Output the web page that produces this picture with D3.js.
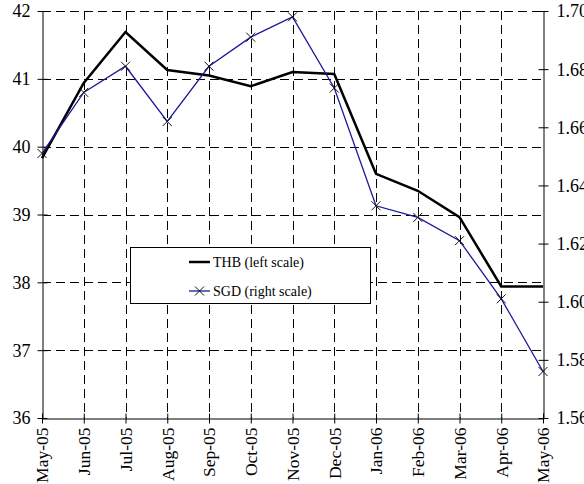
<!DOCTYPE html>
<html>
<head>
<meta charset="utf-8">
<script src="https://cdn.jsdelivr.net/npm/d3@7"></script>
<style>
  body { margin: 0; background: #fff; }
</style>
</head>
<body>
<div id="chart"></div>
<script>
const months = ["May-05", "Jun-05", "Jul-05", "Aug-05", "Sep-05", "Oct-05", "Nov-05",
                "Dec-05", "Jan-06", "Feb-06", "Mar-06", "Apr-06", "May-06"];
const thb = [39.83, 40.94, 41.69, 41.13, 41.05, 40.89, 41.10, 41.07, 39.60, 39.35, 38.96, 37.94, 37.94];
const sgd = [1.651, 1.672, 1.681, 1.662, 1.681, 1.691, 1.698, 1.6735, 1.633, 1.629, 1.621, 1.601, 1.576];
const leftTicks = [36, 37, 38, 39, 40, 41, 42];
const rightTicks = [1.56, 1.58, 1.60, 1.62, 1.64, 1.66, 1.68, 1.70];

const W = 584, H = 484;
const MARGIN = { LEFT: 42, RIGHT: 41, TOP: 11, BOTTOM: 66 };
const FONT = "Liberation Serif";

const svg = d3.select("#chart").append("svg")
    .attr("width", W)
    .attr("height", H)
    .attr("font-family", FONT);

const x = d3.scalePoint()
    .domain(months)
    .range([MARGIN.LEFT, W - MARGIN.RIGHT]);

const yL = d3.scaleLinear()
    .domain([36, 42])
    .range([H - MARGIN.BOTTOM, MARGIN.TOP]);

const yR = d3.scaleLinear()
    .domain([1.56, 1.70])
    .range([H - MARGIN.BOTTOM, MARGIN.TOP]);

const x0 = MARGIN.LEFT, x1 = W - MARGIN.RIGHT;
const yTop = MARGIN.TOP, yBot = H - MARGIN.BOTTOM;

// grid dashed lines
svg.append("g").selectAll("line")
    .data(leftTicks.filter(d => d !== 36))
    .enter().append("line")
    .attr("x1", x0).attr("x2", x1)
    .attr("y1", d => Math.round(yL(d)) + 0.5).attr("y2", d => Math.round(yL(d)) + 0.5)
    .attr("stroke", "#000").attr("stroke-width", 1)
    .attr("stroke-dasharray", "9,5");

svg.append("g").selectAll("line")
    .data(months.slice(1, -1))
    .enter().append("line")
    .attr("x1", d => Math.round(x(d)) + 0.5).attr("x2", d => Math.round(x(d)) + 0.5)
    .attr("y1", yTop).attr("y2", yBot)
    .attr("stroke", "#000").attr("stroke-width", 1)
    .attr("stroke-dasharray", "9,5");

// left axis
const axL = svg.append("g")
    .attr("transform", `translate(${x0 + 0.5},0)`)
    .call(d3.axisLeft(yL).tickValues(leftTicks).tickFormat(d3.format("d")).tickSize(5).tickSizeOuter(0).tickPadding(7));
axL.attr("font-family", FONT);
axL.select(".domain").attr("stroke", "#808080").attr("stroke-width", 2);
axL.selectAll(".tick line").attr("x1", 5).attr("x2", -5).attr("stroke", "#000");
axL.selectAll("text").attr("font-size", 18).attr("dy", "0.33em");

// right axis
const axR = svg.append("g")
    .attr("transform", `translate(${x1 + 0.5},0)`)
    .call(d3.axisRight(yR).tickValues(rightTicks).tickFormat(d3.format(".2f")).tickSize(5).tickSizeOuter(0).tickPadding(8));
axR.attr("font-family", FONT);
axR.select(".domain").attr("stroke", "#808080").attr("stroke-width", 2);
axR.selectAll(".tick line").attr("x1", -5).attr("x2", 5).attr("stroke", "#000");
axR.selectAll("text").attr("font-size", 18).attr("dy", "0.33em");

// bottom axis
const axB = svg.append("g")
    .attr("transform", `translate(0,${yBot + 0.5})`)
    .call(d3.axisBottom(x).tickSize(5).tickSizeOuter(0));
axB.attr("font-family", FONT);
axB.select(".domain").attr("stroke", "#000").attr("stroke-width", 1.2);
axB.selectAll(".tick line").attr("y1", -5).attr("y2", 5).attr("stroke", "#000");
axB.selectAll("text")
    .attr("font-size", 17.5)
    .attr("transform", "rotate(-90)")
    .attr("text-anchor", "end")
    .attr("x", -9)
    .attr("y", 0)
    .attr("dy", "0.33em");

// THB line
svg.append("path")
    .datum(thb)
    .attr("fill", "none")
    .attr("stroke", "#000")
    .attr("stroke-width", 2.5)
    .attr("d", d3.line().x((d, i) => x(months[i])).y(d => yL(d)));

// SGD line
svg.append("path")
    .datum(sgd)
    .attr("fill", "none")
    .attr("stroke", "#1a1a9a")
    .attr("stroke-width", 1.3)
    .attr("d", d3.line().x((d, i) => x(months[i])).y(d => yR(d)));

const s = 4.5;
svg.append("g").selectAll("path")
    .data(sgd)
    .enter().append("path")
    .attr("d", (d, i) => {
        const cx = x(months[i]), cy = yR(d);
        return `M${cx - s},${cy - s}L${cx + s},${cy + s}M${cx - s},${cy + s}L${cx + s},${cy - s}`;
    })
    .attr("stroke", "#111")
    .attr("stroke-width", 1)
    .attr("fill", "none");

// legend
const lg = svg.append("g").attr("font-family", FONT);
lg.append("rect")
    .attr("x", 130.5).attr("y", 247.5)
    .attr("width", 240).attr("height", 56)
    .attr("fill", "#fff").attr("stroke", "#000").attr("stroke-width", 1);

lg.append("line")
    .attr("x1", 189).attr("x2", 210).attr("y1", 262).attr("y2", 262)
    .attr("stroke", "#000").attr("stroke-width", 2.5);
lg.append("text")
    .attr("x", 213).attr("y", 262).attr("dy", "0.35em")
    .attr("font-size", 14)
    .text("THB (left scale)");

lg.append("line")
    .attr("x1", 189).attr("x2", 210).attr("y1", 291).attr("y2", 291)
    .attr("stroke", "#1a1a9a").attr("stroke-width", 1.3);
lg.append("path")
    .attr("d", `M${199.5 - s},${291 - s}L${199.5 + s},${291 + s}M${199.5 - s},${291 + s}L${199.5 + s},${291 - s}`)
    .attr("stroke", "#111").attr("stroke-width", 1);
lg.append("text")
    .attr("x", 213).attr("y", 291).attr("dy", "0.35em")
    .attr("font-size", 14)
    .text("SGD (right scale)");
</script>
</body>
</html>
